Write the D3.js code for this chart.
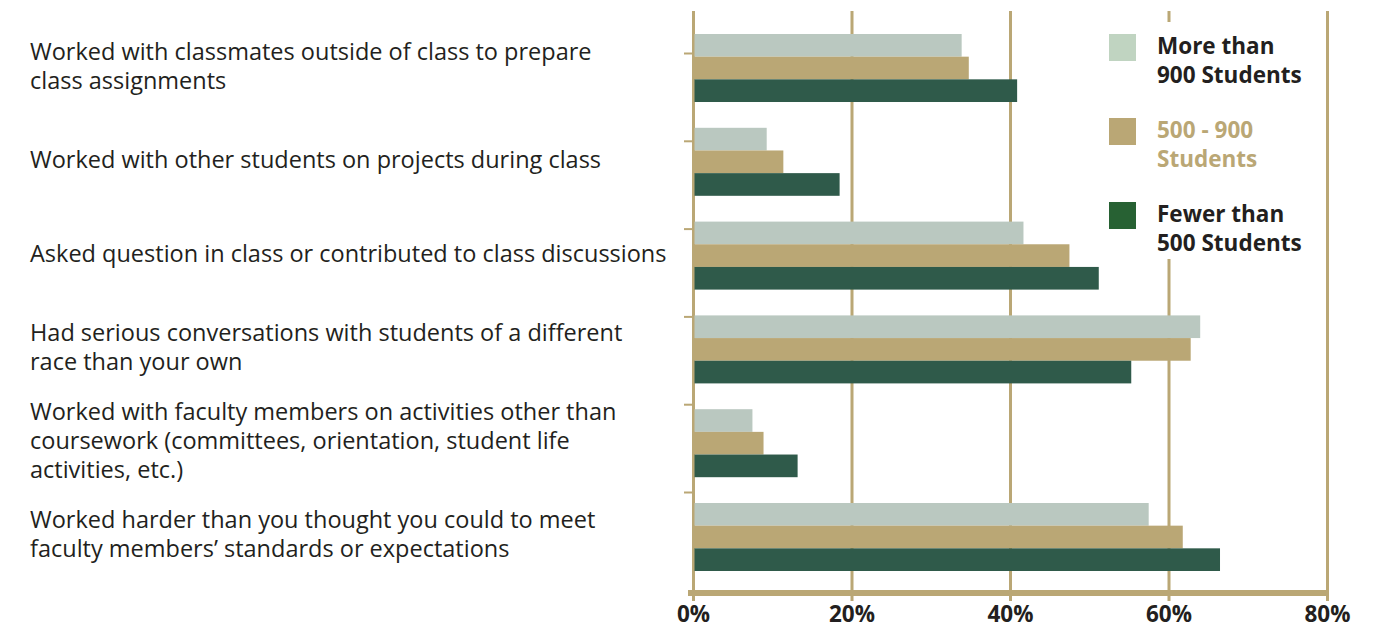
<!DOCTYPE html>
<html>
<head>
<meta charset="utf-8">
<script src="https://cdn.jsdelivr.net/npm/d3@7"></script>
<style>
  body { margin: 0; background: #fff; }
  svg { display: block; }
  text { font-family: "Open Sans", "Noto Sans", sans-serif; }
</style>
</head>
<body>
<div id="chart"></div>
<script>
// data (percent of students)
const categories = [
  ["Worked with classmates outside of class to prepare", "class assignments"],
  ["Worked with other students on projects during class"],
  ["Asked question in class or contributed to class discussions"],
  ["Had serious conversations with students of a different", "race than your own"],
  ["Worked with faculty members on activities other than", "coursework (committees, orientation, student life", "activities, etc.)"],
  ["Worked harder than you thought you could to meet", "faculty members\u2019 standards or expectations"]
];
const seriesNames = ["More than 900 Students", "500 - 900 Students", "Fewer than 500 Students"];
const legendLines = [["More than", "900 Students"], ["500 - 900", "Students"], ["Fewer than", "500 Students"]];
const moreThan900 = [33.9, 9.3, 41.7, 64.0, 7.5, 57.5];
const from500to900 = [34.8, 11.4, 47.5, 62.8, 8.9, 61.8];
const fewerThan500 = [40.9, 18.5, 51.2, 55.3, 13.2, 66.5];
const xTicks = [0, 20, 40, 60, 80];

const barColors = ["#bac8c0", "#baa775", "#2f5a4a"];
const swatchColors = ["#c0d4c1", "#baa775", "#276133"];
const legendTextColors = ["#231f20", "#baa775", "#231f20"];
const gold = "#baa775";

const width = 1379, height = 630;
const values = [moreThan900, from500to900, fewerThan500];
const keys = categories.map((d, i) => i);

const svg = d3.select("#chart")
  .append("svg")
  .attr("width", width)
  .attr("height", height);

const x = d3.scaleLinear().domain([0, 80]).range([693, 1327]);
const y = d3.scaleBand().domain(keys).range([34, 571]).paddingInner(0.275).paddingOuter(0);
const ySub = d3.scaleBand().domain([0, 1, 2]).range([0, y.bandwidth()]);
// the little ticks on the left axis sit on their own spacing
const yTick = d3.scalePoint().domain(keys).range([53, 492]);

// vertical gridlines
svg.append("g")
  .attr("transform", "translate(0,601)")
  .call(d3.axisBottom(x).tickValues(xTicks).tickSize(-590).tickFormat(""))
  .call(g => g.select(".domain").remove())
  .call(g => g.selectAll(".tick line").attr("stroke", gold).attr("stroke-width", 3));

// left ticks
svg.append("g")
  .attr("transform", "translate(693,0)")
  .call(d3.axisLeft(yTick).tickSize(9).tickFormat(""))
  .call(g => g.select(".domain").remove())
  .call(g => g.selectAll(".tick line").attr("stroke", gold).attr("stroke-width", 2));

// bars
const groups = svg.append("g")
  .selectAll("g")
  .data(keys)
  .join("g")
  .attr("transform", d => `translate(0,${y(d)})`);

groups.selectAll("rect")
  .data(d => values.map((s, j) => ({ j, v: s[d] })))
  .join("rect")
  .attr("x", x(0) + 1.5)
  .attr("y", d => ySub(d.j))
  .attr("width", d => x(d.v) - x(0) - 1.5)
  .attr("height", ySub.bandwidth())
  .attr("fill", d => barColors[d.j]);

// bottom axis line
svg.append("line")
  .attr("x1", 688).attr("x2", x(80) + 1.5)
  .attr("y1", 593).attr("y2", 593)
  .attr("stroke", gold)
  .attr("stroke-width", 6);

// x tick labels
svg.append("g")
  .attr("transform", "translate(0,606)")
  .call(d3.axisBottom(x).tickValues(xTicks).tickSize(0).tickPadding(0).tickFormat(d => d + "%"))
  .call(g => g.select(".domain").remove())
  .call(g => g.selectAll("text")
    .attr("font-size", 22.5)
    .attr("font-weight", "bold")
    .attr("fill", "#231f20")
    .attr("dy", "0.72em")
    .style("font-family", "'Open Sans', sans-serif"));

// category labels
const lineH = 29;
svg.append("g")
  .selectAll("text")
  .data(keys)
  .join("text")
  .attr("x", 30)
  .attr("y", d => y(d) + y.bandwidth() / 2 - (categories[d].length - 1) * lineH / 2 - 3)
  .attr("font-size", 23.5)
  .attr("fill", "#231f20")
  .attr("dominant-baseline", "central")
  .selectAll("tspan")
  .data(d => categories[d])
  .join("tspan")
  .attr("x", 30)
  .attr("dy", (d, i) => i === 0 ? 0 : lineH)
  .text(d => d);

// legend
const legend = svg.append("g");
legend.append("rect")
  .attr("x", 1100).attr("y", 22)
  .attr("width", 215).attr("height", 237)
  .attr("fill", "#fff");

const items = legend.selectAll("g")
  .data(seriesNames)
  .join("g")
  .attr("transform", (d, i) => `translate(1109,${34 + i * 84})`);

items.append("rect")
  .attr("width", 27).attr("height", 27)
  .attr("fill", (d, i) => swatchColors[i]);

items.append("text")
  .attr("x", 48)
  .attr("y", 19.5)
  .attr("font-size", 22.5)
  .attr("font-weight", "bold")
  .attr("fill", (d, i) => legendTextColors[i])
  .selectAll("tspan")
  .data((d, i) => legendLines[i])
  .join("tspan")
  .attr("x", 48)
  .attr("dy", (d, i) => i === 0 ? 0 : 29)
  .text(d => d);
</script>
</body>
</html>
